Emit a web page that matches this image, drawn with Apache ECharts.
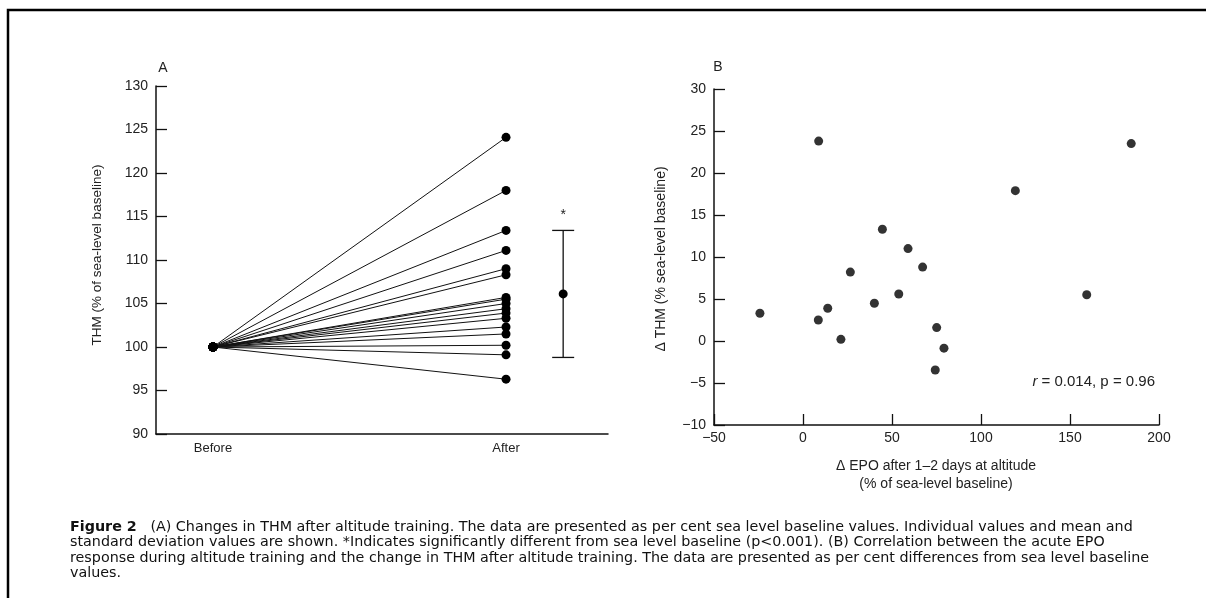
<!DOCTYPE html>
<html><head><meta charset="utf-8">
<script src="https://cdn.jsdelivr.net/npm/echarts@6/dist/echarts.min.js"></script>
<style>html,body{margin:0;padding:0;background:#fff}#c{width:1206px;height:598px}</style>
</head><body><div id="c"></div>
<script>
// Panel A data
const categoriesA = ['Before', 'After'];
const beforeValue = 100;
const afterValues = [124.1, 118.0, 113.4, 111.1, 109.0, 108.3, 105.7, 105.5, 105.0, 104.4, 103.9, 103.3, 102.3, 101.5, 100.2, 99.1, 96.3];
const meanAfter = 106.1;
const sdAfter = 7.3;
const yTicksA = [90, 95, 100, 105, 110, 115, 120, 125, 130];
// Panel B data
const epoChange = [-24.2, 8.6, 8.8, 13.9, 21.3, 26.6, 40.1, 44.6, 53.8, 59.0, 67.2, 75.1, 74.3, 79.2, 119.3, 159.4, 184.4];
const thmChange = [3.3, 2.5, 23.8, 3.9, 0.2, 8.2, 4.5, 13.3, 5.6, 11.0, 8.8, 1.6, -3.45, -0.85, 17.9, 5.5, 23.5];
const xTicksB = [-50, 0, 50, 100, 150, 200];
const yTicksB = [-10, -5, 0, 5, 10, 15, 20, 25, 30];
const statText = ['r', ' = 0.014, p = 0.96'];
const captionLines = [
  ['Figure 2', '   (A) Changes in THM after altitude training. The data are presented as per cent sea level baseline values. Individual values and mean and'],
  ['', 'standard deviation values are shown. *Indicates significantly different from sea level baseline (p<0.001). (B) Correlation between the acute EPO'],
  ['', 'response during altitude training and the change in THM after altitude training. The data are presented as per cent differences from sea level baseline'],
  ['', 'values.']
];

const FONT = 'Liberation Sans';
const CAPFONT = 'DejaVu Sans';
const TXT = '#222';
const axisLineStyle = {color: '#111', width: 1.5};

const chart = echarts.init(document.getElementById('c'), null, {renderer: 'canvas'});

const seriesA = afterValues.map(v => ({
  type: 'line', xAxisIndex: 0, yAxisIndex: 0,
  data: [[0, beforeValue], [1, v]],
  symbol: 'circle', symbolSize: 9,
  lineStyle: {color: '#111', width: 1},
  itemStyle: {color: '#000'},
  silent: true, animation: false, z: 2
}));

const errX = 1.195;
seriesA.push({
  type: 'custom', xAxisIndex: 0, yAxisIndex: 0, animation: false, silent: true,
  data: [[errX, meanAfter, meanAfter - sdAfter, meanAfter + sdAfter]],
  renderItem: function (params, api) {
    const x = api.value(0);
    const pM = api.coord([x, api.value(1)]);
    const pL = api.coord([x, api.value(2)]);
    const pH = api.coord([x, api.value(3)]);
    const cap = 11;
    return {type: 'group', children: [
      {type: 'line', shape: {x1: pL[0], y1: pL[1], x2: pH[0], y2: pH[1]}, style: {stroke: '#111', lineWidth: 1.3}},
      {type: 'line', shape: {x1: pL[0]-cap, y1: pL[1], x2: pL[0]+cap, y2: pL[1]}, style: {stroke: '#111', lineWidth: 1.3}},
      {type: 'line', shape: {x1: pH[0]-cap, y1: pH[1], x2: pH[0]+cap, y2: pH[1]}, style: {stroke: '#111', lineWidth: 1.3}},
      {type: 'circle', shape: {cx: pM[0], cy: pM[1], r: 4.5}, style: {fill: '#000'}},
      {type: 'text', style: {x: pH[0], y: pH[1] - 15, text: '*', fill: '#222', font: '14px ' + FONT, align: 'center', verticalAlign: 'middle'}}
    ]};
  }
});

const seriesB = {
  type: 'scatter', xAxisIndex: 1, yAxisIndex: 1,
  data: epoChange.map((x, i) => [x, thmChange[i]]),
  symbol: 'circle', symbolSize: 9,
  itemStyle: {color: '#000'}, animation: false, silent: true
};

const graphics = [
  {type: 'rect', shape: {x: 8, y: 10, width: 1400, height: 800}, style: {fill: 'none', stroke: '#000', lineWidth: 2.5}},
  {type: 'text', x: 163, y: 68, style: {text: 'A', font: '14px ' + FONT, fill: TXT, align: 'center', verticalAlign: 'middle'}},
  {type: 'text', x: 718, y: 67, style: {text: 'B', font: '14px ' + FONT, fill: TXT, align: 'center', verticalAlign: 'middle'}},
  {type: 'text', x: 97, y: 255, rotation: Math.PI / 2, style: {text: 'THM (% of sea-level baseline)', font: '13.5px ' + FONT, fill: TXT, align: 'center', verticalAlign: 'middle'}},
  {type: 'text', x: 661, y: 259, rotation: Math.PI / 2, style: {text: '\u0394 THM (% sea-level baseline)', font: '14px ' + FONT, fill: TXT, align: 'center', verticalAlign: 'middle'}},
  {type: 'text', x: 936, y: 466, style: {text: '\u0394 EPO after 1\u20132 days at altitude', font: '14px ' + FONT, fill: TXT, align: 'center', verticalAlign: 'middle'}},
  {type: 'text', x: 936, y: 484, style: {text: '(% of sea-level baseline)', font: '14px ' + FONT, fill: TXT, align: 'center', verticalAlign: 'middle'}},
  {type: 'text', x: 1155, y: 382, style: {
    text: '{i|' + statText[0] + '}{n|' + statText[1] + '}', align: 'right', verticalAlign: 'middle',
    rich: {i: {font: 'italic 15px ' + FONT, fill: TXT}, n: {font: '15px ' + FONT, fill: TXT}}
  }}
];
captionLines.forEach((ln, i) => {
  graphics.push({type: 'text', x: 70, y: 527 + i * 15.5, style: {
    text: (ln[0] ? '{b|' + ln[0] + '}' : '') + '{n|' + ln[1] + '}', verticalAlign: 'middle',
    rich: {b: {font: 'bold 14.3px ' + CAPFONT, fill: '#111'}, n: {font: '14.3px ' + CAPFONT, fill: '#111'}}
  }});
});

const option = {
  backgroundColor: '#fff',
  animation: false,
  textStyle: {fontFamily: FONT},
  grid: [
    {left: 156, top: 86, width: 452, height: 348},
    {left: 714, top: 89, width: 445, height: 336}
  ],
  xAxis: [
    {type: 'value', gridIndex: 0, min: -0.1945, max: 1.348,
      axisLine: {show: true, lineStyle: axisLineStyle, onZero: false},
      axisTick: {show: false}, splitLine: {show: false},
      axisLabel: {customValues: [0, 1], formatter: v => categoriesA[Math.round(v)], color: TXT, fontSize: 13, margin: 8, fontFamily: FONT}
    },
    {type: 'value', gridIndex: 1, min: xTicksB[0], max: xTicksB[xTicksB.length-1], interval: 50,
      axisLine: {show: true, lineStyle: axisLineStyle, onZero: false},
      axisTick: {show: true, inside: true, length: 11, lineStyle: {color: '#111', width: 1.3}},
      splitLine: {show: false},
      axisLabel: {color: TXT, fontSize: 14, margin: 6, fontFamily: FONT, formatter: v => v < 0 ? '\u2212' + Math.abs(v) : String(v)}
    }
  ],
  yAxis: [
    {type: 'value', gridIndex: 0, min: yTicksA[0], max: yTicksA[yTicksA.length-1], interval: 5,
      axisLine: {show: true, lineStyle: axisLineStyle, onZero: false},
      axisTick: {show: true, inside: true, length: 11, lineStyle: {color: '#111', width: 1.3}},
      splitLine: {show: false},
      axisLabel: {color: TXT, fontSize: 14, margin: 8, fontFamily: FONT}
    },
    {type: 'value', gridIndex: 1, min: yTicksB[0], max: yTicksB[yTicksB.length-1], interval: 5,
      axisLine: {show: true, lineStyle: axisLineStyle, onZero: false},
      axisTick: {show: true, inside: true, length: 11, lineStyle: {color: '#111', width: 1.3}},
      splitLine: {show: false},
      axisLabel: {color: TXT, fontSize: 14, margin: 8, fontFamily: FONT, formatter: v => v < 0 ? '\u2212' + Math.abs(v) : String(v)}
    }
  ],
  series: seriesA.concat([seriesB]),
  graphic: graphics
};
chart.setOption(option);
</script>
</body></html>
